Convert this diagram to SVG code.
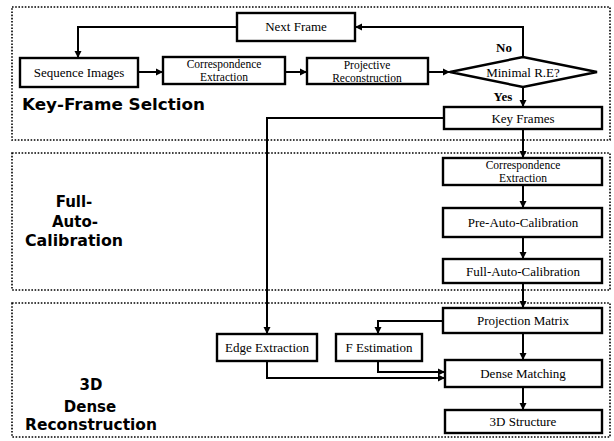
<svg xmlns="http://www.w3.org/2000/svg" width="614" height="441" viewBox="0 0 614 441">
<style>
.sec{fill:none;stroke:#000;stroke-width:1.6;stroke-dasharray:1.6,1.6}
.box{fill:#fff;stroke:#000;stroke-width:2.4}
.t{font-family:"Liberation Serif",serif;font-size:13px;fill:#000;text-anchor:middle}
.t2{font-family:"Liberation Serif",serif;font-size:11.5px;fill:#000;text-anchor:middle}
.h{font-family:"DejaVu Sans",sans-serif;font-weight:bold;font-size:15px;fill:#000}
.c{fill:none;stroke:#000;stroke-width:2}
</style>
<defs>
<marker id="ah" markerWidth="8" markerHeight="8" refX="7" refY="4" orient="auto" markerUnits="userSpaceOnUse">
<path d="M0,0.5 L7,4 L0,7.5 Z" fill="#000"/>
</marker>
</defs>
<g id="sections">
<rect class="sec" x="12" y="7" width="598" height="133"/>
<rect class="sec" x="12" y="153" width="598" height="137"/>
<rect class="sec" x="12" y="303" width="598" height="134"/>
<text class="h" x="22" y="110" textLength="183" lengthAdjust="spacingAndGlyphs">Key-Frame Selction</text>
<text class="h" x="74" y="207" text-anchor="middle">Full-</text>
<text class="h" x="75" y="227" text-anchor="middle">Auto-</text>
<text class="h" x="74" y="246" text-anchor="middle" textLength="98" lengthAdjust="spacingAndGlyphs">Calibration</text>
<text class="h" x="91" y="390" text-anchor="middle">3D</text>
<text class="h" x="90" y="412" text-anchor="middle">Dense</text>
<text class="h" x="91" y="430" text-anchor="middle" textLength="132" lengthAdjust="spacingAndGlyphs">Reconstruction</text>
</g>
<g id="connectors">
<path class="c" d="M138,72 H163" marker-end="url(#ah)"/>
<path class="c" d="M285,72 H307" marker-end="url(#ah)"/>
<path class="c" d="M428,72 H450" marker-end="url(#ah)"/>
<path class="c" d="M523,57 V27 H355" marker-end="url(#ah)"/>
<path class="c" d="M237,27 H78 V58" marker-end="url(#ah)"/>
<path class="c" d="M523,87 V107" marker-end="url(#ah)"/>
<path class="c" d="M444,118 H267 V334" marker-end="url(#ah)"/>
<path class="c" d="M523,129 V158" marker-end="url(#ah)"/>
<path class="c" d="M523,185 V208" marker-end="url(#ah)"/>
<path class="c" d="M523,237 V259" marker-end="url(#ah)"/>
<path class="c" d="M523,283 V308" marker-end="url(#ah)"/>
<path class="c" d="M443,321 H378 V334" marker-end="url(#ah)"/>
<path class="c" d="M378,361 V372 H445" marker-end="url(#ah)"/>
<path class="c" d="M267,361 V378 H445" marker-end="url(#ah)"/>
<path class="c" d="M523,333 V360" marker-end="url(#ah)"/>
<path class="c" d="M523,387 V410" marker-end="url(#ah)"/>
</g>
<g id="next-frame"><rect class="box" x="237" y="13" width="118" height="28"/><text class="t" x="296" y="31">Next Frame</text></g>
<g id="sequence-images"><rect class="box" x="20" y="58" width="118" height="29"/><text class="t" x="79" y="77">Sequence Images</text></g>
<g id="correspondence-1"><rect class="box" x="163" y="57" width="122" height="27"/><text class="t2" x="224" y="68">Correspondence</text><text class="t2" x="224" y="81">Extraction</text></g>
<g id="projective"><rect class="box" x="307" y="58" width="121" height="26"/><text class="t2" x="367" y="69">Projective</text><text class="t2" x="367" y="82">Reconstruction</text></g>
<g id="minimal-re"><polygon points="450,72 523,57 597,72 523,87" fill="#fff" stroke="#000" stroke-width="2.4"/><text class="t" x="523" y="77">Minimal R.E?</text></g>
<text class="t" x="504" y="52" font-weight="bold">No</text>
<text class="t" x="503" y="101" font-weight="bold">Yes</text>
<g id="key-frames"><rect class="box" x="444" y="107" width="158" height="22"/><text class="t" x="523" y="123">Key Frames</text></g>
<g id="correspondence-2"><rect class="box" x="443" y="158" width="159" height="27"/><text class="t2" x="523" y="169">Correspondence</text><text class="t2" x="523" y="182">Extraction</text></g>
<g id="pre-auto"><rect class="box" x="443" y="208" width="159" height="29"/><text class="t" x="523" y="227">Pre-Auto-Calibration</text></g>
<g id="full-auto"><rect class="box" x="443" y="259" width="159" height="24"/><text class="t" x="523" y="276">Full-Auto-Calibration</text></g>
<g id="projection-matrix"><rect class="box" x="443" y="308" width="159" height="25"/><text class="t" x="523" y="325">Projection Matrix</text></g>
<g id="edge-extraction"><rect class="box" x="217" y="334" width="100" height="27"/><text class="t" x="267" y="352">Edge Extraction</text></g>
<g id="f-estimation"><rect class="box" x="336" y="334" width="86" height="27"/><text class="t" x="379" y="352">F Estimation</text></g>
<g id="dense-matching"><rect class="box" x="445" y="360" width="157" height="27"/><text class="t" x="523" y="378">Dense Matching</text></g>
<g id="structure-3d"><rect class="box" x="445" y="410" width="157" height="23"/><text class="t" x="523" y="426">3D Structure</text></g>
</svg>
